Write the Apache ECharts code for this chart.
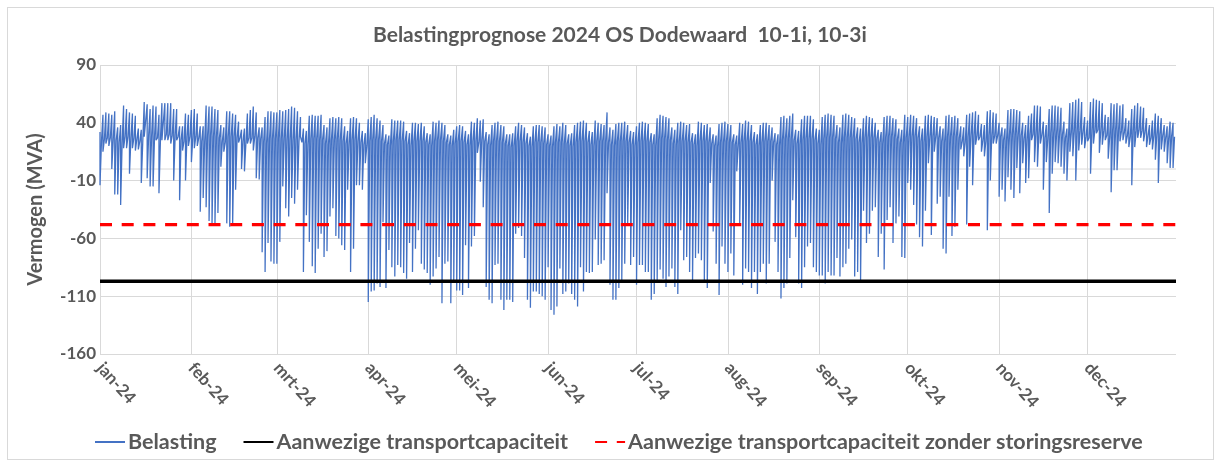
<!DOCTYPE html>
<html>
<head>
<meta charset="utf-8">
<script src="https://cdn.jsdelivr.net/npm/echarts@6/dist/echarts.min.js"></script>
<style>
  html, body { margin: 0; padding: 0; background: #ffffff; }
  #frame { position: absolute; left: 7px; top: 7px; width: 1207px; height: 453px; border: 1px solid #d9d9d9; box-sizing: border-box; }
  #chart { position: absolute; left: 0; top: 0; width: 1221px; height: 466px; }
</style>
</head>
<body>
<div id="frame"></div>
<div id="chart"></div>
<script>
// ---- tick labels ----
const monthLabels = ['jan-24','feb-24','mrt-24','apr-24','mei-24','jun-24','jul-24','aug-24','sep-24','okt-24','nov-24','dec-24'];
const monthStartDays = [0,31,60,91,121,152,182,213,244,274,305,335];
const yTicks = [-160, -110, -60, -10, 40, 90];

// ---- series values (MVA), one entry per day of 2024 (Jan 1 .. Dec 30) ----
// daily peak (upper end of each daily swing)
const dayMax = [
  32,47,49,48,47,50,36,38,55,52,49,48,46,35,34,58,56,52,55,54,47,57,57,57,57,52,52,37,37,48,47,
  51,52,48,37,37,55,54,54,52,51,38,36,50,50,48,47,41,34,35,48,51,54,49,36,36,45,50,50,49,
  49,51,50,51,52,54,53,50,45,35,33,46,47,46,46,47,38,36,44,45,44,45,44,37,33,44,45,44,40,33,31,
  43,45,47,44,42,38,30,29,43,42,42,42,41,33,31,40,40,39,40,37,31,30,41,40,42,40,38,30,29,34,
  37,38,37,33,30,41,40,44,42,43,32,30,38,40,41,38,37,30,30,31,37,40,38,36,31,28,37,38,38,37,36,
  30,29,37,39,37,40,38,30,31,38,40,41,42,40,33,32,42,40,39,38,49,36,34,39,40,40,41,38,33,32,
  37,40,41,40,39,31,30,44,47,46,45,44,36,34,40,41,40,38,39,31,30,41,40,38,39,36,30,29,39,40,41,
  39,38,30,29,40,39,42,41,38,32,30,38,40,40,38,36,31,30,45,46,44,46,48,34,33,43,46,46,46,43,35,
  34,45,47,48,47,46,38,36,47,48,47,45,44,36,35,44,46,45,44,40,34,32,45,46,46,44,43,35,34,47,
  45,47,46,44,37,35,46,47,46,45,44,37,35,46,47,45,46,44,37,36,47,48,49,50,47,39,38,50,51,49,48,
  40,36,35,51,52,52,51,50,40,38,46,48,55,55,54,41,38,52,55,55,54,53,41,35,57,58,60,61,58,45,
  42,58,61,60,59,57,47,45,57,56,57,55,56,44,42,52,55,57,54,53,44,38,42,48,46,44,38,37,41,40
];
// daily low (midday solar dip)
const dayMin = [
  -14,15,22,20,0,-22,-22,-31,18,18,-4,18,16,17,-12,28,-8,-15,-15,25,-21,25,25,25,22,-10,25,-27,16,-10,20,
  6,18,20,-37,-25,-33,-45,-48,-48,-38,2,15,-47,-50,-47,-18,23,0,-2,22,22,16,-8,-9,-72,-89,-64,-80,-82,
  -82,-63,-15,-34,-41,-25,-30,-18,28,-89,-40,-63,-84,-90,-69,-56,-76,-71,-41,-34,-58,-60,-66,-70,-18,-89,-69,-14,-14,-18,5,
  -115,-106,-105,-99,-102,-46,-103,-70,-85,-93,-83,-85,-90,-95,-64,-89,-69,-53,-82,-87,-90,-100,-93,-86,-76,-116,-82,-80,-116,-96,
  -105,-105,-109,-66,-103,-67,-58,14,-11,-33,-102,-113,-116,-83,-82,-113,-122,-113,-113,-115,-56,-51,-58,-77,-113,-120,-106,-106,-108,-110,-113,
  -85,-122,-126,-119,-86,-108,-106,-99,-108,-113,-119,-85,-106,-89,-90,-89,-61,-83,-82,-79,-21,-100,-113,-113,-103,-96,-82,-47,-83,-76,
  -100,-83,-83,-89,-89,-113,-108,-96,-87,-95,-102,-93,-86,-102,-108,-53,-79,-76,-89,-98,-77,-73,-79,-96,-103,-12,-54,-82,-109,-67,-82,
  -89,-73,-92,-2,-47,-100,-86,-89,-103,-89,-108,-89,-82,-99,-82,-10,-63,-89,-112,-103,-99,-77,-27,-59,-99,-103,-85,-67,-64,-85,-89,
  -92,-92,-99,-89,-92,-92,-77,-93,-85,-82,-69,-61,-93,-89,-96,-36,-64,-56,-36,-33,-76,-56,-87,-44,-33,-64,-47,-41,-76,-77,
  -12,-18,-31,-48,-59,-67,-36,5,-57,15,-30,-24,-69,-73,-24,-58,-50,-18,17,11,-48,2,-14,21,25,15,11,-53,-10,22,22,
  -24,-18,-28,-7,-18,-25,1,-21,5,-12,-8,25,6,2,22,-18,6,-38,-4,6,5,2,-4,-10,15,11,-10,16,21,18,
  24,-4,22,31,14,21,25,9,-20,-1,-1,24,25,22,19,-14,19,27,27,24,19,21,17,8,-12,17,15,5,1,1
];
// night level between the daily swings
const dayBase = [
  24,26,27,27,26,25,23,22,28,28,27,27,26,24,23,29,29,28,28,27,25,24,30,30,29,29,28,25,24,28,28,
  28,28,27,24,23,29,29,28,28,27,24,23,28,28,28,27,27,24,23,27,27,28,27,26,23,22,26,26,26,
  26,26,26,25,25,24,25,24,23,22,21,26,26,26,25,25,22,21,25,25,26,25,24,22,21,25,25,24,23,21,20,
  24,25,25,25,24,22,21,20,24,25,25,24,24,21,20,24,24,24,24,23,21,20,24,25,25,24,23,21,20,22,
  24,24,23,21,20,24,24,23,25,24,21,20,24,24,24,23,22,20,19,20,24,24,23,22,20,19,23,23,23,22,21,
  20,19,23,23,23,22,22,20,19,23,24,24,24,23,21,20,24,24,24,23,23,21,20,24,24,24,24,23,21,20,
  23,24,24,24,23,21,20,25,26,26,25,25,22,21,24,24,24,23,23,21,20,24,24,24,23,22,20,19,23,23,24,
  23,23,21,20,23,24,24,24,23,21,20,23,24,24,24,23,21,20,25,26,26,26,25,22,21,25,26,26,26,25,22,
  21,26,27,27,27,26,23,22,27,27,27,27,26,23,22,27,27,27,27,26,23,22,27,28,28,27,26,23,22,27,
  28,28,28,27,24,23,28,28,28,28,27,24,23,28,28,28,28,27,24,23,28,29,29,29,28,25,24,29,29,29,29,
  28,25,24,29,30,30,30,29,26,25,30,30,31,31,30,27,26,31,31,31,31,30,27,26,32,33,33,33,32,28,
  27,33,34,34,34,33,29,28,33,33,33,33,32,29,28,33,33,34,33,32,29,27,29,30,30,29,27,26,28,28
];
const transportCapacity = -97;
const capacityWithoutReserve = -48;
const axisDays = 365;

// ---- build ----
const dayCategories = [];
for (let i = 0; i <= axisDays; i++) {
  const m = monthStartDays.indexOf(i);
  dayCategories.push(m >= 0 ? monthLabels[m] : '');
}
const belasting = [];
for (let k = 0; k < dayMax.length; k++) {
  belasting.push([k, dayMax[k]]);
  belasting.push([k, dayMin[k]]);
  belasting.push([k + 0.5, dayBase[k]]);
}
const isMonthStart = (idx) => monthStartDays.indexOf(idx) >= 0;

const FONT = 'Lato, "Open Sans", sans-serif';
const GREY = '#595959';

const chart = echarts.init(document.getElementById('chart'), null, { renderer: 'canvas' });
chart.setOption({
  animation: false,
  backgroundColor: 'transparent',
  title: {
    text: 'Belastingprognose 2024 OS Dodewaard  10-1i, 10-3i',
    left: 368,
    top: 20,
    textStyle: { fontFamily: FONT, fontSize: 21, fontWeight: 'bold', color: GREY }
  },
  legend: {
    data: ['Belasting', 'Aanwezige transportcapaciteit', 'Aanwezige transportcapaciteit zonder storingsreserve'],
    left: 94,
    top: 431,
    padding: 0,
    itemWidth: 30,
    itemHeight: 14,
    itemGap: 26,
    itemStyle: { opacity: 0 },
    textStyle: { fontFamily: FONT, fontSize: 21.5, fontWeight: 'bold', color: GREY, padding: [0, 0, 0, -2] }
  },
  grid: { left: 100, right: 45, top: 65, bottom: 112, containLabel: false },
  xAxis: [
    {
      type: 'category',
      data: dayCategories,
      boundaryGap: false,
      axisLine: { show: false, onZero: false },
      axisTick: { show: false },
      axisLabel: {
        interval: (idx) => isMonthStart(idx),
        rotate: -48,
        margin: 11,
        fontFamily: FONT, fontSize: 17, fontWeight: 'bold', color: GREY
      },
      splitLine: { show: true, interval: (idx) => isMonthStart(idx), lineStyle: { color: '#d9d9d9', width: 1 } }
    },
    { type: 'value', min: 0, max: axisDays, show: false, splitLine: { show: false } }
  ],
  yAxis: {
    type: 'value',
    min: yTicks[0],
    max: yTicks[yTicks.length - 1],
    interval: yTicks[1] - yTicks[0],
    name: 'Vermogen (MVA)',
    nameLocation: 'middle',
    nameRotate: 90,
    nameGap: 54,
    nameTextStyle: { fontFamily: FONT, fontSize: 20, fontWeight: 'bold', color: GREY },
    axisLine: { show: false },
    axisTick: { show: false },
    axisLabel: { margin: 4, fontFamily: FONT, fontSize: 17, fontWeight: 'bold', color: GREY },
    splitLine: { lineStyle: { color: '#d9d9d9', width: 1 } }
  },
  series: [
    {
      name: 'nul-as',
      type: 'line',
      xAxisIndex: 1,
      data: [[0, 0], [axisDays, 0]],
      symbol: 'none',
      silent: true,
      z: 0,
      lineStyle: { color: '#d9d9d9', width: 1 }
    },
    {
      name: 'Belasting',
      type: 'line',
      xAxisIndex: 1,
      data: belasting,
      symbol: 'none',
      lineStyle: { color: '#4472c4', width: 1.3 },
      itemStyle: { color: '#4472c4' },
      z: 2
    },
    {
      name: 'Aanwezige transportcapaciteit',
      type: 'line',
      xAxisIndex: 1,
      data: [[0, transportCapacity], [axisDays, transportCapacity]],
      symbol: 'none',
      lineStyle: { color: '#000000', width: 3.5 },
      itemStyle: { color: '#000000' },
      z: 3
    },
    {
      name: 'Aanwezige transportcapaciteit zonder storingsreserve',
      type: 'line',
      xAxisIndex: 1,
      data: [[0, capacityWithoutReserve], [axisDays, capacityWithoutReserve]],
      symbol: 'none',
      lineStyle: { color: '#ff0000', width: 3.2, type: [12, 9.7] },
      itemStyle: { color: '#ff0000' },
      z: 4
    }
  ]
});
</script>
</body>
</html>
